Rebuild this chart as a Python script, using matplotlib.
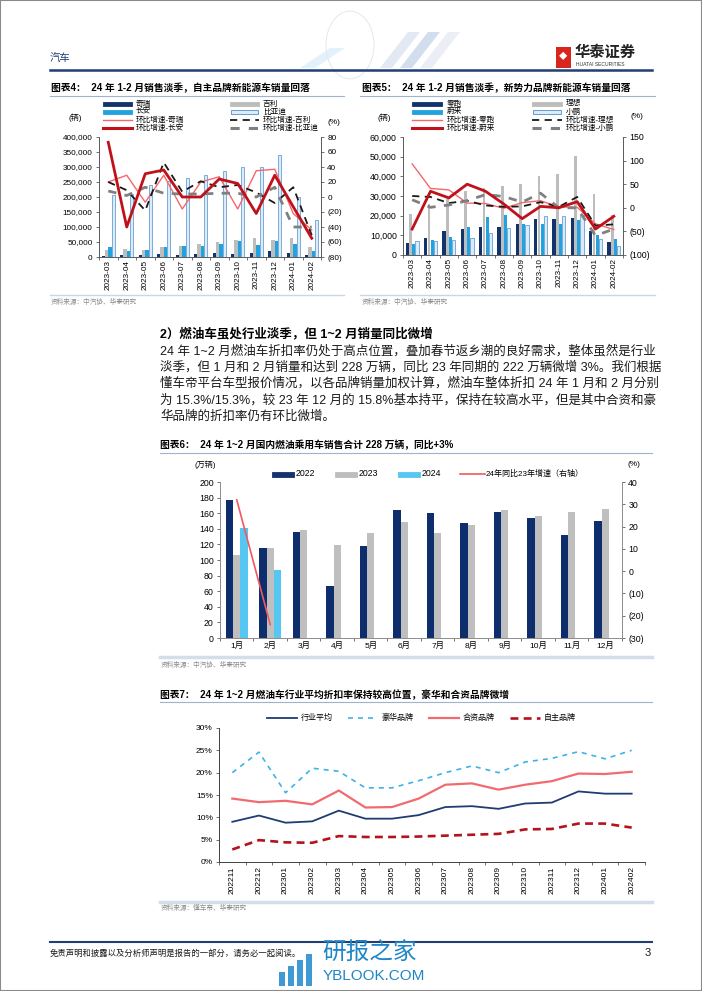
import matplotlib
matplotlib.use('Agg')
import matplotlib.pyplot as plt
from matplotlib.patches import Rectangle, Circle, Polygon
from matplotlib.lines import Line2D
from matplotlib.ticker import FuncFormatter
import numpy as np

plt.rcParams['font.family'] = ['Liberation Sans', 'Noto Sans CJK SC', 'DejaVu Sans']
plt.rcParams['axes.unicode_minus'] = False

# ---------------- data ----------------
months4 = ['2023-03', '2023-04', '2023-05', '2023-06', '2023-07', '2023-08',
           '2023-09', '2023-10', '2023-11', '2023-12', '2024-01', '2024-02']
chery = [5000, 8000, 7000, 10000, 8000, 10000, 12000, 10000, 15000, 20000, 15000, 8000]
geely = [25000, 28000, 22000, 35000, 36000, 44000, 50000, 57000, 62000, 57000, 65000, 32000]
changan = [32000, 20000, 25000, 35000, 36000, 36000, 45000, 53000, 40000, 53000, 45000, 20000]
byd = [206000, 210000, 240000, 253000, 262000, 274000, 287000, 301000, 301000, 341000, 201000, 122000]
chery_mom = [20, 29, -7, 29, -16, 20, 27, -16, 35, 37, -22, -44]
changan_mom = [73, -40, 31, 36, 0, 0, 24, 18, -22, 29, -13, -55]
geely_mom = [20, 9, -18, 46, 7, 21, 13, 16, 6, -8, 13, -51]
byd_mom = [8, 2, 13, 5, 4, 4, 5, 5, 0, 13, -40, -40]

months5 = months4
leap = [6200, 8700, 12000, 13200, 14300, 14100, 15800, 18200, 18500, 18600, 12300, 6600]
li = [20800, 25700, 28300, 32600, 34100, 34900, 36000, 40400, 41000, 50400, 31200, 20200]
nio = [5600, 7700, 9300, 14300, 19200, 20400, 15600, 16000, 15900, 18000, 10000, 8100]
xpeng = [7000, 7100, 7500, 8600, 11000, 13700, 15300, 20000, 20000, 20100, 8300, 4500]
leap_mom = [93, 41, 38, 10, 9, -1, 11, 15, 2, 1, -34, -46]
nio_mom = [-45, 35, 21, 50, 35, 8, -23, 3, 0, 13, -45, -18]
li_mom = [25, 23, 10, 15, 5, 2, 3, 12, 2, 23, -38, -35]
xpeng_mom = [17, 1, 6, 15, 28, 24, 12, 31, 0, 0, -59, -45]

months6 = ['1月', '2月', '3月', '4月', '5月', '6月', '7月', '8月', '9月', '10月', '11月', '12月']
fuel2022 = [177, 116, 136, 67, 118, 164, 160, 148, 162, 154, 132, 150]
fuel2023 = [107, 115, 139, 119, 134, 149, 134, 145, 164, 157, 161, 165]
fuel2024 = [141, 87]
yoy2024 = [32, -24]

months7 = ['202211', '202212', '202301', '202302', '202303', '202304', '202305', '202306',
           '202307', '202308', '202309', '202310', '202311', '202312', '202401', '202402']
avg_disc = [9.0, 10.4, 8.8, 9.1, 11.5, 9.7, 9.7, 10.5, 12.3, 12.5, 11.9, 13.1, 13.3, 15.8, 15.3, 15.3]
lux_disc = [20.0, 24.6, 15.5, 21.0, 20.3, 16.6, 16.6, 18.2, 20.0, 21.5, 20.0, 22.4, 23.2, 24.7, 23.1, 25.0]
jv_disc = [14.2, 13.4, 13.7, 12.9, 16.0, 12.2, 12.3, 14.2, 17.3, 17.6, 16.2, 17.3, 18.1, 19.8, 19.7, 20.2]
own_disc = [2.8, 4.9, 4.4, 4.3, 5.8, 5.6, 5.6, 5.7, 5.9, 6.1, 6.3, 7.3, 7.4, 8.6, 8.6, 7.7]

# ---------------- styles ----------------
NAVY = '#13336C'
GRAY = '#BDBDBD'
BLUE = '#22A2DE'
OUT_FC = '#DCEBF8'
OUT_EC = '#4F8FCC'
LRED = '#F4686D'
DRED = '#C0111B'
AX_C = '#595959'
SRC_C = '#8C8C8C'

W, H = 702, 991
fig = plt.figure(figsize=(W / 100, H / 100), dpi=100)
fig.patch.set_facecolor('white')


def fx(x):
    return x / W


def fy(y):
    return 1 - y / H


def add_ax(l, t, r, b):
    return fig.add_axes([fx(l), fy(b), (r - l) / W, (b - t) / H])


def ftext(x, y, s, **kw):
    kw.setdefault('va', 'center')
    fig.text(fx(x), fy(y), s, **kw)


def hline(x0, x1, y, **kw):
    fig.add_artist(Line2D([fx(x0), fx(x1)], [fy(y), fy(y)], transform=fig.transFigure, **kw))


def leg_bar(x0, x1, y, fc, ec=None, h=4.5):
    fig.add_artist(Rectangle((fx(x0), fy(y + h / 2)), (x1 - x0) / W, h / H,
                             transform=fig.transFigure, fc=fc, ec=ec or fc, lw=0.6))


def paren(v, pos=None):
    v = int(round(v))
    return f'({abs(v)})' if v < 0 else f'{v}'


def style(ax, spines, color=AX_C):
    for s in ax.spines:
        ax.spines[s].set_visible(s in spines)
        ax.spines[s].set_color(color)
        ax.spines[s].set_linewidth(0.7)
    ax.patch.set_alpha(0)


def cat_xaxis(ax, n, labels, rot, fs, pad=2):
    ax.set_xlim(-0.5, n - 0.5)
    ax.set_xticks(np.arange(n))
    ax.set_xticklabels(labels, rotation=rot, fontsize=fs)
    ax.set_xticks(np.arange(n + 1) - 0.5, minor=True)
    ax.tick_params(axis='x', which='major', length=0, pad=pad)
    ax.tick_params(axis='x', which='minor', length=2.5, width=0.6, color=AX_C)


# ---------------- page decoration ----------------
fig.add_artist(Rectangle((0, 0), 1, 1, transform=fig.transFigure, fill=False, ec='#8A8A8A', lw=1.5))
# header globe decoration (faint)
fig.add_artist(Circle((fx(350), fy(45)), 24 / W, transform=fig.transFigure, fill=False,
                      ec='#E4E7EC', lw=0.7))
for dx, col in [(0, '#D6E0EE'), (20, '#BFD0E6'), (40, '#E3E9F2')]:
    fig.add_artist(Polygon([(fx(380 + dx), fy(68)), (fx(392 + dx), fy(68)),
                            (fx(420 + dx), fy(32)), (fx(408 + dx), fy(32))],
                           transform=fig.transFigure, fc=col, ec='none', alpha=0.7))
fig.add_artist(Polygon([(fx(300), fy(68)), (fx(315), fy(68)), (fx(345), fy(48)), (fx(330), fy(48))],
                       transform=fig.transFigure, fc='#D8ECF8', ec='none', alpha=0.7))
ftext(50, 58, '汽车', fontsize=7.5, color='#1F3F75', ha='left')
hline(50, 652, 70, color='#1F3F75', lw=1.8)
fig.add_artist(Rectangle((fx(556), fy(68)), 15 / W, 21 / H, transform=fig.transFigure,
                         fc='#D7261E', ec='none'))
ftext(563.5, 57, '◆', fontsize=6, color='white', ha='center')
ftext(575, 53, '华泰证券', fontsize=11, fontweight='bold', color='#222222', ha='left')
ftext(576, 64.5, 'HUATAI SECURITIES', fontsize=3.6, color='#333333', ha='left')

# footer
hline(50, 652, 942, color='#1F3F75', lw=1.5)
ftext(50, 953, '免责声明和披露以及分析师声明是报告的一部分，请务必一起阅读。', fontsize=6,
      color='#1A1A1A', ha='left', style='italic')
ftext(651, 953, '3', fontsize=8, ha='right', color='#1A1A1A')
for i, hgt in enumerate([14, 20, 26, 32]):
    fig.add_artist(Rectangle((fx(279 + i * 9), fy(986)), 6 / W, hgt / H,
                             transform=fig.transFigure, fc='#2A8FD0', ec='none', alpha=0.9))
ftext(322, 953, '研报之家', fontsize=17, color='#1E86C6', ha='left')
ftext(323, 976, 'YBLOOK.COM', fontsize=11, color='#1E86C6', ha='left')

# ---------------- chart 4 ----------------
ftext(51, 88, '图表4：  24 年 1-2 月销售淡季，自主品牌新能源车销量回落', fontsize=7,
      fontweight='bold', ha='left')
hline(50, 344, 96, color='#9FB3CC', lw=0.8)
fs_leg = 5.5
rows = [104, 112, 120, 128]
leg_bar(103, 132, rows[0], NAVY); ftext(136, rows[0], '奇瑞', fontsize=fs_leg, ha='left')
leg_bar(230, 259, rows[0], GRAY); ftext(263, rows[0], '吉利', fontsize=fs_leg, ha='left')
leg_bar(103, 132, rows[1], BLUE); ftext(136, rows[1], '长安', fontsize=fs_leg, ha='left')
leg_bar(231, 258, rows[1], OUT_FC, OUT_EC); ftext(263, rows[1], '比亚迪', fontsize=fs_leg, ha='left')
hline(103, 132, rows[2], color=LRED, lw=1.0); ftext(136, rows[2], '环比增速-奇瑞', fontsize=fs_leg, ha='left')
hline(230, 259, rows[2], color='#1A1A1A', lw=1.3, ls=(0, (4, 3)))
ftext(263, rows[2], '环比增速-吉利', fontsize=fs_leg, ha='left')
hline(103, 132, rows[3], color=DRED, lw=2.2); ftext(136, rows[3], '环比增速-长安', fontsize=fs_leg, ha='left')
hline(230, 259, rows[3], color='#808080', lw=2.2, ls=(0, (3, 3)))
ftext(263, rows[3], '环比增速-比亚迪', fontsize=fs_leg, ha='left')
ftext(75, 118, '(辆)', fontsize=5.8, ha='center')
ftext(334, 122, '(%)', fontsize=6, ha='center')

ax4 = add_ax(99, 137, 321, 257)
x12 = np.arange(12)
bw = 0.18
ax4.bar(x12 - 1.5 * bw, chery, bw, color=NAVY, zorder=2)
ax4.bar(x12 - 0.5 * bw, geely, bw, color=GRAY, zorder=2)
ax4.bar(x12 + 0.5 * bw, changan, bw, color=BLUE, zorder=2)
ax4.bar(x12 + 1.5 * bw, byd, bw, facecolor=OUT_FC, edgecolor=OUT_EC, lw=0.5, zorder=2)
ax4.set_ylim(0, 400000)
ax4.set_yticks(np.arange(0, 400001, 50000))
ax4.yaxis.set_major_formatter(FuncFormatter(lambda v, p: f'{int(v):,}'))
ax4.tick_params(axis='y', labelsize=5.9, length=2.5, width=0.6, color=AX_C, pad=2)
cat_xaxis(ax4, 12, months4, 90, 5.9)
style(ax4, ['left', 'bottom'])
ax4b = ax4.twinx()
ax4b.plot(x12, chery_mom, color=LRED, lw=1.0)
ax4b.plot(x12, geely_mom, color='#1A1A1A', lw=1.3, ls=(0, (4, 3)))
ax4b.plot(x12, byd_mom, color='#808080', lw=2.0, ls=(0, (3, 3)))
ax4b.plot(x12, changan_mom, color=DRED, lw=2.0)
ax4b.set_ylim(-80, 80)
ax4b.set_yticks(np.arange(-80, 81, 20))
ax4b.yaxis.set_major_formatter(FuncFormatter(paren))
ax4b.tick_params(axis='y', labelsize=5.9, length=2.5, width=0.6, color=AX_C, pad=2)
style(ax4b, ['right'])
hline(50, 344, 295, color='#C9D6E6', lw=1.0)
ftext(51, 302, '资料来源：中汽协、华泰研究', fontsize=4.8, color=SRC_C, ha='left')

# ---------------- chart 5 ----------------
ftext(362, 88, '图表5：  24 年 1-2 月销售淡季，新势力品牌新能源车销量回落', fontsize=7,
      fontweight='bold', ha='left')
hline(360, 655, 96, color='#9FB3CC', lw=0.8)
leg_bar(412, 442, rows[0], NAVY); ftext(447, rows[0], '零跑', fontsize=fs_leg, ha='left')
leg_bar(532, 562, rows[0], GRAY); ftext(566, rows[0], '理想', fontsize=fs_leg, ha='left')
leg_bar(412, 442, rows[1], BLUE); ftext(447, rows[1], '蔚来', fontsize=fs_leg, ha='left')
leg_bar(533, 561, rows[1], OUT_FC, OUT_EC); ftext(566, rows[1], '小鹏', fontsize=fs_leg, ha='left')
hline(412, 442, rows[2], color=LRED, lw=1.0); ftext(447, rows[2], '环比增速-零跑', fontsize=fs_leg, ha='left')
hline(532, 562, rows[2], color='#1A1A1A', lw=1.3, ls=(0, (4, 3)))
ftext(566, rows[2], '环比增速-理想', fontsize=fs_leg, ha='left')
hline(412, 442, rows[3], color=DRED, lw=2.2); ftext(447, rows[3], '环比增速-蔚来', fontsize=fs_leg, ha='left')
hline(532, 562, rows[3], color='#808080', lw=2.2, ls=(0, (3, 3)))
ftext(566, rows[3], '环比增速-小鹏', fontsize=fs_leg, ha='left')
ftext(384, 118, '(辆)', fontsize=5.8, ha='center')
ftext(637, 117, '(%)', fontsize=6, ha='center')

ax5 = add_ax(403, 137, 623, 255)
ax5.bar(x12 - 1.5 * bw, leap, bw, color=NAVY, zorder=2)
ax5.bar(x12 - 0.5 * bw, li, bw * 0.8, color=GRAY, zorder=2)
ax5.bar(x12 + 0.5 * bw, nio, bw, color=BLUE, zorder=2)
ax5.bar(x12 + 1.5 * bw, xpeng, bw, facecolor=OUT_FC, edgecolor=OUT_EC, lw=0.5, zorder=2)
ax5.set_ylim(0, 60000)
ax5.set_yticks(np.arange(0, 60001, 10000))
ax5.yaxis.set_major_formatter(FuncFormatter(lambda v, p: f'{int(v):,}'))
ax5.tick_params(axis='y', labelsize=6.3, length=2.5, width=0.6, color=AX_C, pad=2)
cat_xaxis(ax5, 12, months5, 90, 5.9)
style(ax5, ['left', 'bottom'])
ax5b = ax5.twinx()
ax5b.plot(x12, leap_mom, color=LRED, lw=1.0)
ax5b.plot(x12, li_mom, color='#1A1A1A', lw=1.3, ls=(0, (4, 3)))
ax5b.plot(x12, xpeng_mom, color='#808080', lw=2.0, ls=(0, (3, 3)))
ax5b.plot(x12, nio_mom, color=DRED, lw=2.0)
ax5b.set_ylim(-100, 150)
ax5b.set_yticks(np.arange(-100, 151, 50))
ax5b.yaxis.set_major_formatter(FuncFormatter(paren))
ax5b.tick_params(axis='y', labelsize=6.3, length=2.5, width=0.6, color=AX_C, pad=2)
style(ax5b, ['right'])
hline(360, 655, 295, color='#C9D6E6', lw=1.0)
ftext(362, 302, '资料来源：中汽协、华泰研究', fontsize=4.8, color=SRC_C, ha='left')

# ---------------- section text ----------------
ftext(160, 334, '2）燃油车虽处行业淡季，但 1~2 月销量同比微增', fontsize=9, fontweight='bold', ha='left')
para = ['24 年 1~2 月燃油车折扣率仍处于高点位置，叠加春节返乡潮的良好需求，整体虽然是行业',
        '淡季，但 1 月和 2 月销量和达到 228 万辆，同比 23 年同期的 222 万辆微增 3%。我们根据',
        '懂车帝平台车型报价情况，以各品牌销量加权计算，燃油车整体折扣 24 年 1 月和 2 月分别',
        '为 15.3%/15.3%，较 23 年 12 月的 15.8%基本持平，保持在较高水平，但是其中合资和豪',
        '华品牌的折扣率仍有环比微增。']
for i, line in enumerate(para):
    ftext(160, 351 + i * 16.4, line, fontsize=9, ha='left', color='#1A1A1A')

# ---------------- chart 6 ----------------
ftext(160, 445, '图表6：  24 年 1~2 月国内燃油乘用车销售合计 228 万辆，同比+3%', fontsize=7,
      fontweight='bold', ha='left')
hline(160, 652, 453, color='#9FB3CC', lw=0.8)
ftext(205, 465, '(万辆)', fontsize=5.8, ha='center')
ftext(634, 465, '(%)', fontsize=6, ha='center')
leg_bar(272, 294, 474, NAVY, h=5); ftext(296, 474, '2022', fontsize=6.3, ha='left')
leg_bar(335, 357, 474, GRAY, h=5); ftext(359, 474, '2023', fontsize=6.3, ha='left')
leg_bar(398, 420, 474, '#55C7F2', h=5); ftext(422, 474, '2024', fontsize=6.3, ha='left')
hline(460, 485, 474, color='#F4585C', lw=1.2)
ftext(486, 474, '24年同比23年增速（右轴）', fontsize=5.8, ha='left')

ax6 = add_ax(220, 482, 622, 638)
bw6 = 0.22
ax6.bar(x12 - bw6, fuel2022, bw6, color='#0E2D6D', zorder=2)
ax6.bar(x12, fuel2023, bw6, color='#BFBFBF', zorder=2)
ax6.bar(np.arange(len(fuel2024)) + bw6, fuel2024, bw6, color='#55C7F2', zorder=2)
ax6.set_ylim(0, 200)
ax6.set_yticks(np.arange(0, 201, 20))
ax6.tick_params(axis='y', labelsize=6.3, length=2.5, width=0.6, color=AX_C, pad=2)
cat_xaxis(ax6, 12, months6, 0, 6.0, pad=3)
style(ax6, ['left', 'bottom'], color='#8C8C8C')
ax6b = ax6.twinx()
ax6b.plot(np.arange(len(yoy2024)), yoy2024, color='#F4585C', lw=1.2)
ax6b.set_ylim(-30, 40)
ax6b.set_yticks(np.arange(-30, 41, 10))
ax6b.yaxis.set_major_formatter(FuncFormatter(paren))
ax6b.tick_params(axis='y', labelsize=6.3, length=2.5, width=0.6, color=AX_C, pad=2)
style(ax6b, ['right'], color='#8C8C8C')
hline(160, 652, 656.5, color='#D3DEEA', lw=2.5)
ftext(161, 665, '资料来源：中汽协、华泰研究', fontsize=4.8, color=SRC_C, ha='left')

# ---------------- chart 7 ----------------
ftext(160, 695, '图表7：  24 年 1~2 月燃油车行业平均折扣率保持较高位置，豪华和合资品牌微增', fontsize=7,
      fontweight='bold', ha='left')
hline(160, 652, 702, color='#9FB3CC', lw=0.8)
ly = 718
hline(267, 297, ly, color='#1F3C73', lw=1.3); ftext(301, ly, '行业平均', fontsize=5.8, ha='left')
hline(348, 378, ly, color='#3CB4E5', lw=1.2, ls=(0, (3, 3))); ftext(382, ly, '豪华品牌', fontsize=5.8, ha='left')
hline(429, 459, ly, color='#F26A6F', lw=1.6); ftext(463, ly, '合资品牌', fontsize=5.8, ha='left')
hline(510, 540, ly, color='#B4121C', lw=1.9, ls=(0, (3, 2))); ftext(544, ly, '自主品牌', fontsize=5.8, ha='left')

ax7 = add_ax(219, 728, 645, 862)
x16 = np.arange(len(months7))
ax7.plot(x16, avg_disc, color='#1F3C73', lw=1.3)
ax7.plot(x16, lux_disc, color='#3CB4E5', lw=1.2, ls=(0, (3, 3)))
ax7.plot(x16, jv_disc, color='#F26A6F', lw=1.6)
ax7.plot(x16, own_disc, color='#B4121C', lw=1.9, ls=(0, (3, 2)))
ax7.set_ylim(0, 30)
ax7.set_yticks(np.arange(0, 31, 5))
ax7.yaxis.set_major_formatter(FuncFormatter(lambda v, p: f'{int(v)}%'))
ax7.tick_params(axis='y', labelsize=6.0, length=2.5, width=0.6, color=AX_C, pad=2)
cat_xaxis(ax7, len(months7), months7, 90, 6.0, pad=3)
style(ax7, ['left', 'bottom'], color='#404040')
hline(160, 652, 901.5, color='#D3DEEA', lw=2.5)
ftext(161, 908, '资料来源：懂车帝、华泰研究', fontsize=4.8, color=SRC_C, ha='left')

fig.savefig('out.png', dpi=100)
